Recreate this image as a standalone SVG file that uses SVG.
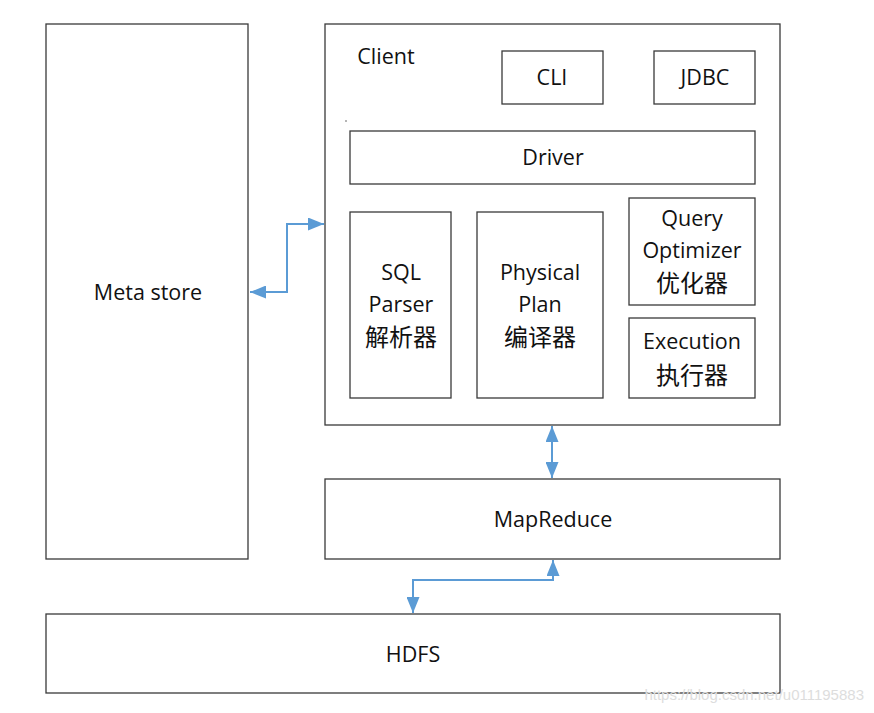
<svg xmlns="http://www.w3.org/2000/svg" width="874" height="713" viewBox="0 0 874 713">
<style>
.box{fill:#fff;stroke:#3a3a3a;stroke-width:1.3}
.t{font-family:"Open Sans","Noto Sans","Noto Sans CJK SC",sans-serif;font-size:21.5px;fill:#111;text-anchor:middle}
.z{font-family:"Noto Sans CJK SC",sans-serif;font-size:24px;fill:#111;text-anchor:middle}
.c{fill:none;stroke:#5B9BD5;stroke-width:2}
</style>
<defs>
<marker id="ah" viewBox="0 0 10 10" refX="10" refY="5" markerWidth="8" markerHeight="6.5" orient="auto-start-reverse" markerUnits="strokeWidth" preserveAspectRatio="none">
<path d="M0,0 L10,5 L0,10 Z" fill="#5B9BD5"/>
</marker>
</defs>
<rect width="874" height="713" fill="#fff"/>
<g id="metastore"><rect class="box" x="46" y="24" width="202" height="535"/><text class="t" x="148" y="300">Meta store</text></g>
<g id="client"><rect class="box" x="325" y="24" width="455" height="401"/><text class="t" x="386" y="64">Client</text><circle cx="346" cy="121" r="0.7" fill="#333"/></g>
<g id="cli"><rect class="box" x="502" y="51" width="101" height="53"/><text class="t" x="552" y="85">CLI</text></g>
<g id="jdbc"><rect class="box" x="654" y="51" width="101" height="53"/><text class="t" x="705" y="85">JDBC</text></g>
<g id="driver"><rect class="box" x="350" y="131" width="405" height="53"/><text class="t" x="553" y="165">Driver</text></g>
<g id="sqlparser"><rect class="box" x="350" y="212" width="101" height="186"/><text class="t" x="401" y="280">SQL</text><text class="t" x="401" y="312">Parser</text><text class="z" x="401" y="346">解析器</text></g>
<g id="physicalplan"><rect class="box" x="477" y="212" width="126" height="186"/><text class="t" x="540" y="280">Physical</text><text class="t" x="540" y="312">Plan</text><text class="z" x="540" y="346">编译器</text></g>
<g id="optimizer"><rect class="box" x="629" y="198" width="126" height="107"/><text class="t" x="692" y="226">Query</text><text class="t" x="692" y="258">Optimizer</text><text class="z" x="692" y="292">优化器</text></g>
<g id="execution"><rect class="box" x="629" y="318" width="126" height="80"/><text class="t" x="692" y="349">Execution</text><text class="z" x="692" y="384">执行器</text></g>
<g id="mapreduce"><rect class="box" x="325" y="479" width="455" height="80"/><text class="t" x="553" y="527">MapReduce</text></g>
<g id="hdfs"><rect class="box" x="46" y="614" width="734" height="79"/><text class="t" x="413" y="662">HDFS</text></g>
<g id="connectors">
<path class="c" d="M250,292 H287 V224 H324" marker-start="url(#ah)" marker-end="url(#ah)"/>
<path class="c" d="M552,426 V478" marker-start="url(#ah)" marker-end="url(#ah)"/>
<path class="c" d="M553,560 V580 H413 V613" marker-start="url(#ah)" marker-end="url(#ah)"/>
</g>
<text x="864" y="700" font-family="Liberation Sans,sans-serif" font-size="15" fill="#ddd" text-anchor="end">https://blog.csdn.net/u011195883</text>
</svg>
